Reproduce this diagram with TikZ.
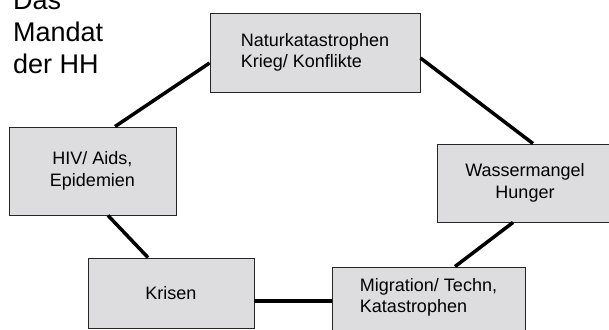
\documentclass[tikz,border=0pt]{standalone}
\usepackage{fontspec}
\setmainfont{Liberation Sans}
\usepackage{tikz}

\definecolor{boxgray}{RGB}{221,221,223}

\tikzset{
    topic/.style={
        draw=black!85,
        fill=boxgray,
        line width=0.9pt,
        align=center,
        inner sep=0pt,
        font=\fontsize{18}{21.5}\selectfont
    },
    link/.style={line width=3.5pt, black}
}

\begin{document}
\begin{tikzpicture}[x=1pt,y=-1pt]

\useasboundingbox (0,0) rectangle (609,329);

\node[
    anchor=base west,
    align=left,
    inner sep=0pt,
    font=\fontsize{27}{31.5}\selectfont
] (mandat) at (13,73)
{Das\\Mandat\\der HH};

\node[topic, minimum width=210pt, minimum height=79pt, align=left] (natur) at (315,52.5)
{Naturkatastrophen\\Krieg/ Konflikte};

\node[topic, minimum width=167pt, minimum height=88pt] (hiv) at (92.5,171)
{HIV/ Aids,\\Epidemien};

\node[topic, minimum width=176pt, minimum height=78pt] (wasser) at (525,183)
{Wassermangel\\Hunger};

\node[topic, minimum width=166pt, minimum height=70pt] (krisen) at (171,293)
{Krisen};

\node[topic, minimum width=193pt, minimum height=78pt, align=left] (migration) at (428.5,306)
{Migration/ Techn,\\Katastrophen\\\mbox{}};

% Verbindungen im Kreis
\draw[link] ([yshift=-10.5pt]natur.west) -- ([xshift=22.5pt]hiv.north);
\draw[link] ([yshift=-5.5pt]natur.east) -- ([xshift=8pt]wasser.north);
\draw[link] ([xshift=-12pt]wasser.south) -- ([xshift=26.5pt]migration.north);
\draw[link] ([xshift=15.5pt]hiv.south) -- ([xshift=-23pt]krisen.north);
\draw[link] ([yshift=-8pt]krisen.east) -- ([yshift=-8pt]krisen.east -| migration.west);

\end{tikzpicture}
\end{document}
